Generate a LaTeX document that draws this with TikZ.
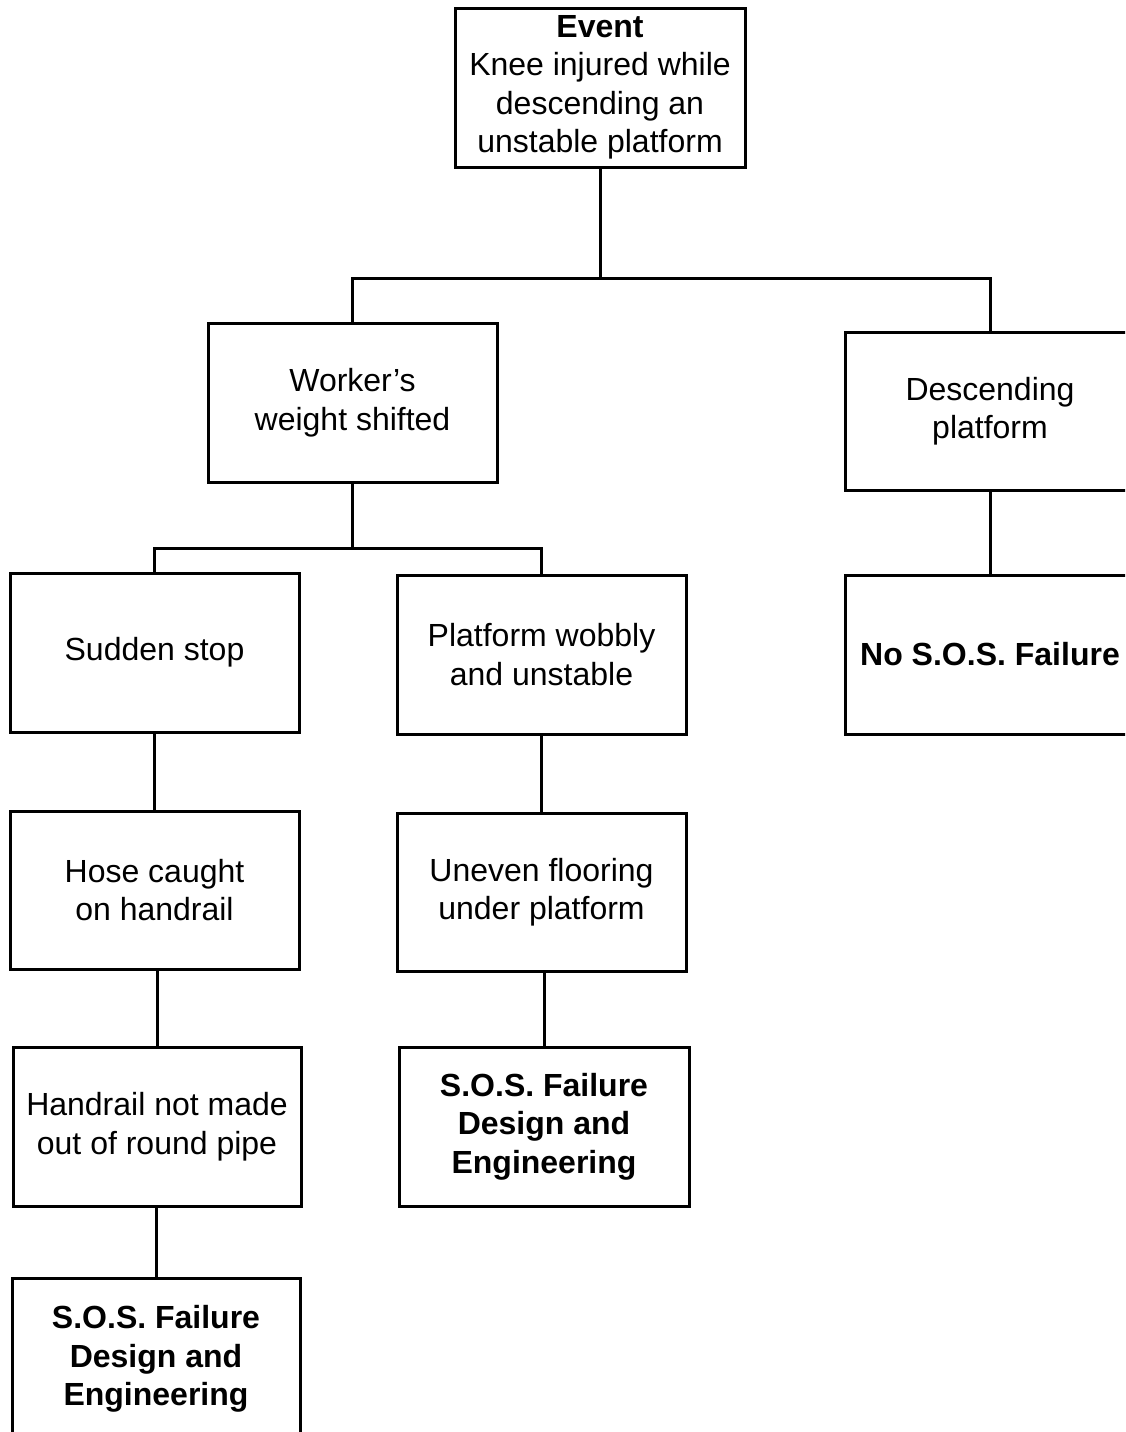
\documentclass[tikz,border=0pt]{standalone}
\usepackage{fontspec}
\setmainfont{Liberation Sans}
\begin{document}
\begin{tikzpicture}[x=1pt,y=-1pt,
  box/.style={draw=black,line width=3pt,minimum width=289pt,minimum height=159pt,
    align=center,inner sep=0pt,font=\fontsize{32}{38.5}\selectfont},
  conn/.style={draw=black,line width=3pt}]
\useasboundingbox[fill=white] (0,0) rectangle (1125,1432);
\clip (0,0) rectangle (1125,1432);
\node[box,minimum width=290pt] (event) at (600,87.5) {\textbf{Event}\\Knee injured while\\descending an\\unstable platform};
\node[box] (worker) at (352.5,402.5) {Worker’s\\weight shifted};
\node[box,minimum width=290pt,minimum height=158pt] (desc) at (990,411) {Descending\\platform};
\node[box] (sudden) at (154.5,652.5) {Sudden stop};
\node[box] (wobbly) at (541.5,654.5) {Platform wobbly\\and unstable};
\node[box,minimum width=290pt] (nosos) at (990,654.5) {\textbf{No S.O.S. Failure}};
\node[box,minimum height=158pt] (hose) at (154.5,890) {Hose caught\\on handrail};
\node[box,minimum height=158pt] (uneven) at (541.5,892) {Uneven flooring\\under platform};
\node[box,minimum width=288pt] (handrail) at (157,1126.5) {Handrail not made\\out of round pipe};
\node[box,minimum width=290pt] (sos2) at (544,1126.5) {\textbf{S.O.S. Failure}\\\textbf{Design and}\\\textbf{Engineering}};
\node[box,minimum width=288pt,minimum height=162pt] (sos1) at (156,1359) {\textbf{S.O.S. Failure}\\\textbf{Design and}\\\textbf{Engineering}};
\coordinate (j1) at (600,278);
\coordinate (j2) at (352.5,548);
\draw[conn] (event.south) -- (j1);
\draw[conn] (worker.north) |- (j1) -| (desc.north);
\draw[conn] (worker.south) -- (j2);
\draw[conn] (sudden.north) |- (j2) -| (wobbly.north);
\draw[conn] (desc.south) -- (nosos.north);
\draw[conn] (sudden.south) -- (hose.north);
\draw[conn] (wobbly.south) -- (uneven.north);
\draw[conn] (handrail.north) -- (handrail.north |- hose.south);
\draw[conn] (sos2.north) -- (sos2.north |- uneven.south);
\draw[conn] (sos1.north) -- (sos1.north |- handrail.south);
\end{tikzpicture}
\end{document}
